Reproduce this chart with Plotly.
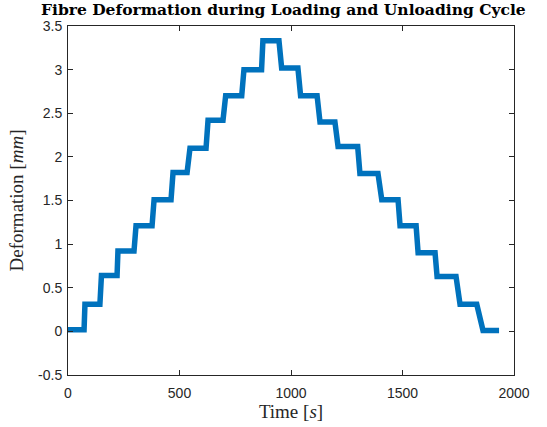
import plotly.graph_objects as go

# Plateau of each load step: start time [s], end time [s], mean deformation [mm]
step_start = [0, 76, 150, 224, 305, 386, 471, 547, 628, 707, 789, 874,
              958, 1043, 1130, 1211, 1309, 1407, 1489, 1570, 1655, 1758, 1861]
step_end = [72, 143, 220, 296, 377, 462, 534, 619, 695, 779, 868, 946,
            1031, 1117, 1197, 1299, 1390, 1480, 1561, 1646, 1740, 1833, 1933]
step_level = [0.02, 0.31, 0.64, 0.92, 1.21, 1.51, 1.82, 2.10, 2.42, 2.70, 3.00, 3.33,
              3.02, 2.70, 2.40, 2.12, 1.81, 1.51, 1.21, 0.90, 0.63, 0.31, 0.01]

y_ticks = [-0.5, 0, 0.5, 1, 1.5, 2, 2.5, 3, 3.5]
y_tick_text = ["-0.5", "0", "0.5", "1", "1.5", "2", "2.5", "3", "3.5"]
x_ticks = [0, 500, 1000, 1500, 2000]
x_tick_text = ["0", "500", "1000", "1500", "2000"]

t, d = [], []
for s, e, lv in zip(step_start, step_end, step_level):
    t += [s, e]
    d += [lv, lv]

axis_col = "#262626"
fig = go.Figure(go.Scatter(x=t, y=d, mode="lines",
                           line=dict(color="#0072BD", width=5.5)))

common = dict(showline=True, linecolor=axis_col, linewidth=1, mirror="ticks",
              ticks="inside", ticklen=5, tickcolor=axis_col, showgrid=False,
              zeroline=False,
              tickfont=dict(family="Liberation Sans", size=14, color=axis_col))

fig.update_xaxes(range=[0, 2000], tickvals=x_ticks, ticktext=x_tick_text,
                 ticklabelstandoff=5,
                 title=dict(text="Time [<i>s</i>]", standoff=2,
                            font=dict(family="Liberation Serif", size=19, color=axis_col)),
                 **common)
fig.update_yaxes(range=[-0.5, 3.5], tickvals=y_ticks, ticktext=y_tick_text,
                 ticklabelstandoff=2,
                 title=dict(text="Deformation [<i>mm</i>]", standoff=9,
                            font=dict(family="Liberation Serif", size=19, color=axis_col)),
                 **common)

fig.update_layout(
    width=547, height=427,
    margin=dict(l=68, r=33, t=26, b=52),
    plot_bgcolor="white", paper_bgcolor="white",
    showlegend=False,
    title=dict(text="<b>Fibre Deformation during Loading and Unloading Cycle</b>",
               x=0.518, xanchor="center", y=0.991, yanchor="top",
               font=dict(family="DejaVu Serif", size=15.5, color="black")),
)

fig.write_html("out.html")
